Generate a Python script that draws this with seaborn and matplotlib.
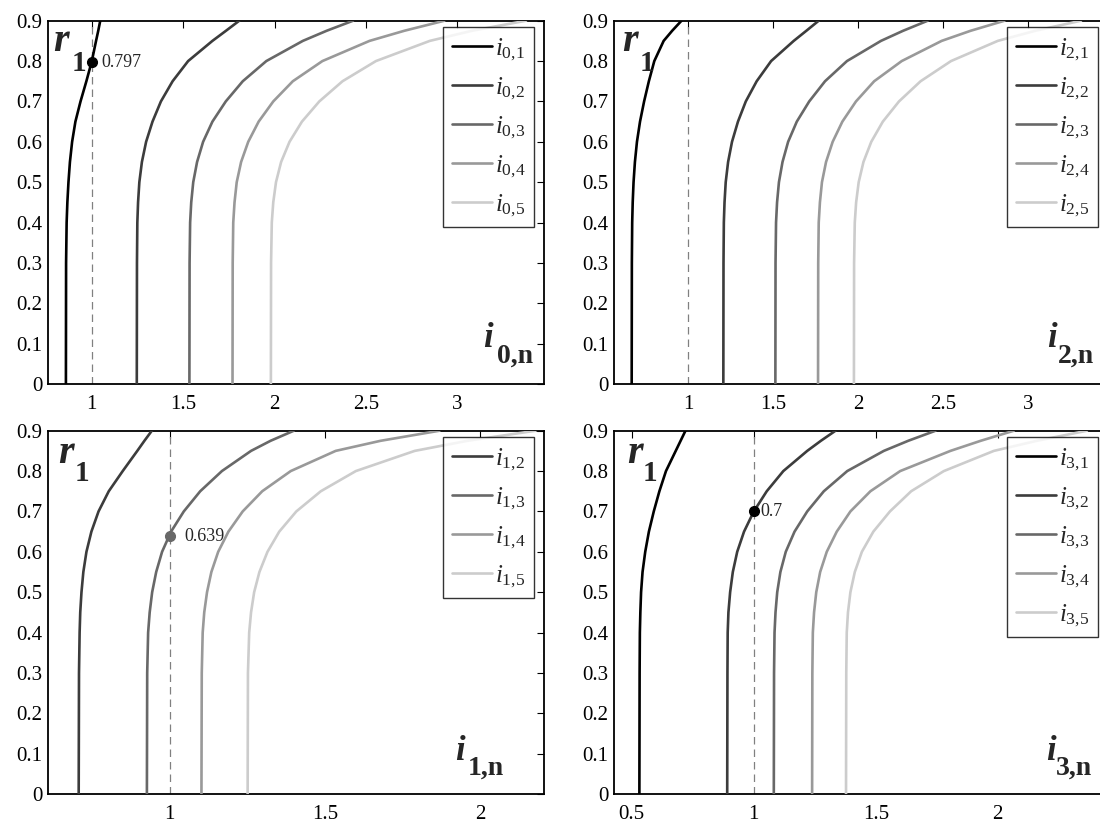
import numpy as np
import pandas as pd
import matplotlib
matplotlib.use("Agg")
import matplotlib.pyplot as plt
import seaborn as sns

sns.set_theme(style="white")
plt.rcParams['font.family'] = ['Liberation Serif', 'DejaVu Serif']
plt.rcParams['mathtext.fontset'] = 'custom'
plt.rcParams['mathtext.rm'] = 'Liberation Serif'
plt.rcParams['mathtext.it'] = 'Liberation Serif:italic'
plt.rcParams['mathtext.bf'] = 'Liberation Serif:bold'

# ---------------- data ----------------
r1 = [0.0, 0.3, 0.4, 0.45, 0.5, 0.55, 0.6, 0.65, 0.7, 0.75, 0.8, 0.85, 0.875, 0.9]

# panel i_{0,n}
i0_1 = [0.858, 0.859, 0.862, 0.866, 0.872, 0.880, 0.892, 0.910, 0.938, 0.970, 1.000, 1.023, 1.035, 1.046]
i0_2 = [1.246, 1.247, 1.249, 1.253, 1.260, 1.274, 1.297, 1.332, 1.378, 1.442, 1.527, 1.660, 1.734, 1.807]
i0_3 = [1.534, 1.535, 1.538, 1.544, 1.555, 1.576, 1.609, 1.660, 1.733, 1.826, 1.955, 2.155, 2.285, 2.430]
i0_4 = [1.770, 1.771, 1.774, 1.781, 1.793, 1.817, 1.856, 1.913, 1.993, 2.100, 2.262, 2.520, 2.710, 2.930]
i0_5 = [1.980, 1.981, 1.985, 1.993, 2.008, 2.036, 2.082, 2.150, 2.245, 2.372, 2.555, 2.850, 3.080, 3.377]

# panel i_{2,n}
i2_1 = [0.667, 0.668, 0.670, 0.673, 0.678, 0.686, 0.698, 0.716, 0.740, 0.768, 0.800, 0.855, 0.905, 0.960]
i2_2 = [1.206, 1.207, 1.209, 1.213, 1.220, 1.234, 1.257, 1.292, 1.338, 1.402, 1.487, 1.620, 1.694, 1.767]
i2_3 = [1.512, 1.513, 1.516, 1.522, 1.533, 1.554, 1.587, 1.638, 1.711, 1.804, 1.933, 2.133, 2.263, 2.408]
i2_4 = [1.763, 1.764, 1.767, 1.774, 1.786, 1.810, 1.849, 1.906, 1.986, 2.093, 2.255, 2.490, 2.660, 2.860]
i2_5 = [1.974, 1.975, 1.979, 1.987, 2.002, 2.030, 2.076, 2.144, 2.239, 2.366, 2.545, 2.820, 3.040, 3.310]

# panel i_{1,n}
i1_2 = [0.706, 0.707, 0.709, 0.711, 0.715, 0.721, 0.731, 0.747, 0.770, 0.803, 0.848, 0.895, 0.918, 0.942]
i1_3 = [0.926, 0.927, 0.930, 0.935, 0.943, 0.956, 0.975, 1.004, 1.045, 1.098, 1.168, 1.262, 1.325, 1.400]
i1_4 = [1.102, 1.103, 1.106, 1.111, 1.120, 1.134, 1.156, 1.189, 1.235, 1.298, 1.390, 1.535, 1.680, 1.870]
i1_5 = [1.251, 1.252, 1.256, 1.262, 1.272, 1.289, 1.315, 1.353, 1.408, 1.487, 1.600, 1.790, 1.960, 2.180]

# panel i_{3,n}
i3_1 = [0.531, 0.532, 0.533, 0.535, 0.538, 0.544, 0.555, 0.570, 0.590, 0.613, 0.640, 0.680, 0.700, 0.720]
i3_2 = [0.891, 0.892, 0.893, 0.896, 0.903, 0.914, 0.932, 0.960, 1.000, 1.053, 1.121, 1.219, 1.275, 1.335]
i3_3 = [1.082, 1.083, 1.085, 1.089, 1.096, 1.109, 1.131, 1.167, 1.219, 1.287, 1.383, 1.533, 1.633, 1.745]
i3_4 = [1.239, 1.240, 1.242, 1.247, 1.256, 1.272, 1.299, 1.340, 1.396, 1.478, 1.600, 1.806, 1.930, 2.066]
i3_5 = [1.378, 1.379, 1.381, 1.386, 1.396, 1.414, 1.443, 1.490, 1.558, 1.645, 1.779, 1.984, 2.160, 2.366]

# highlighted points (x = 1)
mark_i0 = (1.0, 0.797, "0.797")
mark_i1 = (1.0, 0.639, "0.639")
mark_i3 = (1.0, 0.7, "0.7")

yticks = [0, 0.1, 0.2, 0.3, 0.4, 0.5, 0.6, 0.7, 0.8, 0.9]
ytick_labels = ["0", "0.1", "0.2", "0.3", "0.4", "0.5", "0.6", "0.7", "0.8", "0.9"]
xticks_a = [1, 1.5, 2, 2.5, 3]
xtick_labels_a = ["1", "1.5", "2", "2.5", "3"]
xticks_b = [1, 1.5, 2]
xtick_labels_b = ["1", "1.5", "2"]
xticks_c = [0.5, 1, 1.5, 2]
xtick_labels_c = ["0.5", "1", "1.5", "2"]

# ---------------- styles ----------------
grays = {1: "#000000", 2: "#3c3c3c", 3: "#686868", 4: "#999999", 5: "#cccccc"}
W, H = 1100, 823

fig = plt.figure(figsize=(11, 8.23), dpi=100)
fig.patch.set_facecolor("white")


def px_axes(x0, y0, w, h):
    return fig.add_axes([x0 / W, 1 - (y0 + h) / H, w / W, h / H])


def panel(ax, k, series, idxs, xlim, xt, xtl, mark, mark_color, mark_dx, rl, il, legx):
    frames = []
    for n, xs in zip(idxs, series):
        frames.append(pd.DataFrame({"x": xs, "r": r1, "s": f"$i_{{{k}{{,}}{n}}}$"}))
    df = pd.concat(frames, ignore_index=True)
    order = [f"$i_{{{k}{{,}}{n}}}$" for n in idxs]
    pal = {lab: grays[n] for lab, n in zip(order, idxs)}
    sns.lineplot(data=df, x="x", y="r", hue="s", hue_order=order, palette=pal,
                 estimator=None, sort=False, lw=1.9, ax=ax, legend=False, zorder=3)
    ax.axvline(1.0, color="#808080", lw=0.9, ls=(0, (6, 4)), zorder=2)
    ax.set_xlim(*xlim)
    ax.set_ylim(0, 0.9)
    ax.set_yticks(yticks)
    ax.set_yticklabels(ytick_labels)
    ax.set_xticks(xt)
    ax.set_xticklabels(xtl)
    ax.set_xlabel("")
    ax.set_ylabel("")
    ax.tick_params(axis="both", direction="in", length=5, width=0.8,
                   top=True, right=True, labelsize=15, colors="black")
    ax.tick_params(axis="x", pad=8)
    ax.tick_params(axis="y", pad=4)
    for sp in ax.spines.values():
        sp.set_visible(True)
        sp.set_color("black")
        sp.set_linewidth(1.3)
    ax.set_facecolor("white")
    ax.grid(False)
    if mark is not None:
        mx, my, mt = mark
        ax.plot([mx], [my], "o", color=mark_color, ms=7, zorder=5)
        ax.annotate(mt, (mx, my), xytext=(mark_dx, 0), textcoords="offset pixels",
                    va="center", ha="left", fontsize=13, zorder=6)
    # r_1 label
    ax.text(rl[0], rl[1], "r", transform=ax.transAxes, fontsize=29, fontweight="bold",
            fontstyle="italic", va="baseline", ha="left")
    ax.text(rl[2], rl[3], "1", transform=ax.transAxes, fontsize=21, fontweight="bold",
            va="baseline", ha="left")
    # i_{k,n} label
    ax.text(il[0], il[1], "i", transform=ax.transAxes, fontsize=25, fontweight="bold",
            fontstyle="italic", va="baseline", ha="left")
    ax.text(il[2], il[3], f"{k},n", transform=ax.transAxes, fontsize=20, fontweight="bold",
            va="baseline", ha="left")
    leg = ax.legend(handles=ax.lines[:len(idxs)], labels=order, loc="upper right",
                    bbox_to_anchor=(legx, 0.982), borderaxespad=0, fontsize=18,
                    frameon=True, fancybox=False, handlelength=1.6, handletextpad=0.12,
                    labelspacing=0.5, borderpad=0.35)
    leg.get_frame().set_edgecolor("black")
    leg.get_frame().set_linewidth(1.0)
    leg.set_zorder(10)


axw, axh = 496, 363.3
ax_tl = px_axes(48, 20.7, axw, axh)
ax_tr = px_axes(614, 20.7, axw, axh)
ax_bl = px_axes(48, 430.7, axw, axh)
ax_br = px_axes(614, 430.7, axw, axh)

panel(ax_tl, 0, [i0_1, i0_2, i0_3, i0_4, i0_5], [1, 2, 3, 4, 5], (0.76, 3.475),
      xticks_a, xtick_labels_a, mark_i0, "#000000", 10,
      (0.010, 0.917, 0.048, 0.862), (0.877, 0.102, 0.905, 0.058), 0.98)
panel(ax_tr, 2, [i2_1, i2_2, i2_3, i2_4, i2_5], [1, 2, 3, 4, 5], (0.563, 3.48),
      xticks_a, xtick_labels_a, None, None, 0,
      (0.016, 0.917, 0.052, 0.862), (0.873, 0.102, 0.895, 0.058), 0.976)
panel(ax_bl, 1, [i1_2, i1_3, i1_4, i1_5], [2, 3, 4, 5], (0.607, 2.207),
      xticks_b, xtick_labels_b, mark_i1, "#686868", 15,
      (0.020, 0.912, 0.054, 0.862), (0.821, 0.094, 0.847, 0.052), 0.98)
panel(ax_br, 3, [i3_1, i3_2, i3_3, i3_4, i3_5], [1, 2, 3, 4, 5], (0.427, 2.46),
      xticks_c, xtick_labels_c, mark_i3, "#000000", 7,
      (0.026, 0.912, 0.058, 0.862), (0.871, 0.094, 0.891, 0.052), 0.976)

fig.savefig("out.png", dpi=100, facecolor="white")
